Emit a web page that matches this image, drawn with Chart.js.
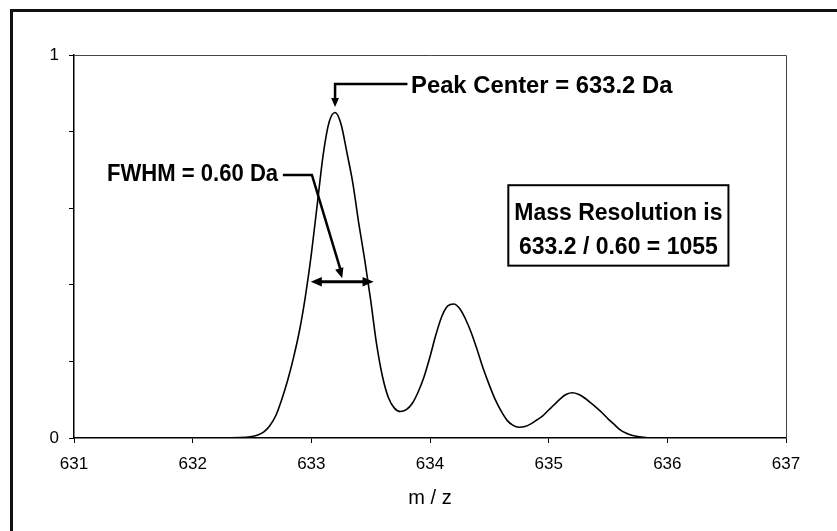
<!DOCTYPE html>
<html>
<head>
<meta charset="utf-8">
<script src="https://cdn.jsdelivr.net/npm/chart.js@4/dist/chart.umd.min.js"></script>
<style>
  html, body { margin: 0; padding: 0; background: #fff; }
  #wrap { width: 837px; height: 531px; position: relative; }
</style>
</head>
<body>
<div id="wrap"><canvas id="spectrum"></canvas></div>
<script>
// m/z positions and relative intensity
var mz = [631, 632, 632.4, 632.5, 632.55, 632.6, 632.65, 632.7, 632.75, 632.8, 632.85, 632.9, 632.95,
  633, 633.05, 633.1, 633.15, 633.2, 633.25, 633.3, 633.35, 633.4, 633.45, 633.5, 633.55, 633.6, 633.65,
  633.7, 633.75, 633.8, 633.85, 633.9, 633.95, 634, 634.05, 634.1, 634.15, 634.2, 634.25, 634.3, 634.35,
  634.4, 634.45, 634.5, 634.55, 634.6, 634.65, 634.7, 634.75, 634.8, 634.85, 634.9, 634.95, 635, 635.05,
  635.1, 635.15, 635.2, 635.25, 635.3, 635.35, 635.4, 635.45, 635.5, 635.55, 635.6, 635.65, 635.7, 635.75,
  635.8, 635.85, 636, 637]
var intensity = [0, 0, 0.001, 0.004, 0.008, 0.016, 0.032, 0.058, 0.1, 0.15, 0.21, 0.28, 0.37,
  0.48, 0.61, 0.74, 0.825, 0.85, 0.82, 0.745, 0.665, 0.56, 0.465, 0.36, 0.245, 0.16, 0.105,
  0.078, 0.069, 0.074, 0.09, 0.12, 0.16, 0.212, 0.27, 0.318, 0.345, 0.35, 0.338, 0.31, 0.273,
  0.228, 0.18, 0.138, 0.1, 0.07, 0.046, 0.033, 0.028, 0.03, 0.037, 0.047, 0.058, 0.073, 0.088,
  0.103, 0.114, 0.118, 0.114, 0.105, 0.093, 0.08, 0.066, 0.05, 0.036, 0.022, 0.013, 0.007, 0.004,
  0.002, 0, 0, 0]
var yLabels = { 0: '0', 1: '1' }

var points = mz.map(function (m, i) { return { x: m, y: intensity[i] } })

var FONT = "'Liberation Sans', Arial, sans-serif"

function arrowHead(ctx, x1, y1, x2, y2, size) {
  var a = Math.atan2(y2 - y1, x2 - x1)
  ctx.beginPath()
  ctx.moveTo(x2, y2)
  ctx.lineTo(x2 - size * Math.cos(a - 0.4), y2 - size * Math.sin(a - 0.4))
  ctx.lineTo(x2 - size * Math.cos(a + 0.4), y2 - size * Math.sin(a + 0.4))
  ctx.closePath()
  ctx.fill()
}

var notes = {
  id: 'notes',
  afterDraw: function (chart) {
    var ctx = chart.ctx, xs = chart.scales.x, ys = chart.scales.y, ca = chart.chartArea
    var X = function (v) { return xs.getPixelForValue(v) }
    var Y = function (v) { return ys.getPixelForValue(v) }
    ctx.save()
    // outer frame
    ctx.strokeStyle = '#111'
    ctx.lineWidth = 3
    ctx.beginPath()
    ctx.moveTo(11.5, 531)
    ctx.lineTo(11.5, 10.5)
    ctx.lineTo(837, 10.5)
    ctx.stroke()
    // plot frame top/right
    ctx.lineWidth = 1
    ctx.strokeStyle = '#444'
    ctx.beginPath()
    ctx.moveTo(ca.left, ca.top + 0.5)
    ctx.lineTo(ca.right + 0.5, ca.top + 0.5)
    ctx.lineTo(ca.right + 0.5, ca.bottom)
    ctx.stroke()

    ctx.strokeStyle = '#000'
    ctx.fillStyle = '#000'
    ctx.lineWidth = 2.5
    // peak centre leader
    ctx.beginPath()
    ctx.moveTo(X(633.81), Y(0.924))
    ctx.lineTo(X(633.2), Y(0.924))
    ctx.lineTo(X(633.2), Y(0.88))
    ctx.stroke()
    arrowHead(ctx, X(633.2), Y(0.9), X(633.2), Y(0.864), 10)
    // FWHM leader
    ctx.beginPath()
    ctx.moveTo(X(632.76), Y(0.687))
    ctx.lineTo(X(633.005), Y(0.687))
    ctx.lineTo(X(633.245), Y(0.44))
    ctx.stroke()
    arrowHead(ctx, X(633.0), Y(0.687), X(633.26), Y(0.417), 11)
    // FWHM width arrow
    ctx.lineWidth = 3
    ctx.beginPath()
    ctx.moveTo(X(633.05), Y(0.408))
    ctx.lineTo(X(633.47), Y(0.408))
    ctx.stroke()
    arrowHead(ctx, X(633.2), Y(0.408), X(632.995), Y(0.408), 12)
    arrowHead(ctx, X(633.3), Y(0.408), X(633.525), Y(0.408), 12)

    ctx.font = 'bold 23px ' + FONT
    ctx.textBaseline = 'middle'
    ctx.textAlign = 'left'
    ctx.save()
    ctx.translate(X(633.84), Y(0.918))
    ctx.scale(1.035, 1)
    ctx.fillText('Peak Center = 633.2 Da', 0, 0)
    ctx.restore()
    ctx.save()
    ctx.translate(X(632.72), Y(0.687))
    ctx.scale(0.96, 1)
    ctx.textAlign = 'right'
    ctx.fillText('FWHM = 0.60 Da', 0, 0)
    ctx.restore()

    // result box
    ctx.lineWidth = 2
    var bx = X(634.66), by = Y(0.66), bw = X(636.515) - bx, bh = Y(0.45) - by
    ctx.strokeRect(bx, by, bw, bh)
    ctx.textAlign = 'center'
    ctx.fillText('Mass Resolution is', bx + bw / 2, Y(0.587))
    ctx.fillText('633.2 / 0.60 = 1055', bx + bw / 2, Y(0.497))
    ctx.restore()
  }
}

var chart = new Chart(document.getElementById('spectrum'), {
  type: 'line',
  data: {
    datasets: [{
      data: points,
      borderColor: '#000',
      borderWidth: 1.6,
      pointRadius: 0,
      fill: false,
      cubicInterpolationMode: 'monotone'
    }]
  },
  options: {
    responsive: true,
    maintainAspectRatio: false,
    animation: false,
    events: [],
    layout: { padding: { top: 55, right: 51, left: 0, bottom: 0 } },
    plugins: { legend: { display: false }, tooltip: { enabled: false } },
    scales: {
      x: {
        type: 'linear', min: 631, max: 637,
        afterFit: function (s) { s.height = 93 },
        grid: { drawOnChartArea: false, tickLength: 5, color: '#000' },
        border: { color: '#000', width: 1.5 },
        ticks: { stepSize: 1, padding: 11, color: '#000', font: { family: FONT, size: 17 }, maxRotation: 0 },
        title: { display: true, text: 'm / z', color: '#000', font: { family: FONT, size: 20 }, padding: { bottom: 21 } }
      },
      y: {
        min: 0, max: 1,
        afterFit: function (s) { s.width = 74 },
        grid: { drawOnChartArea: false, tickLength: 5, color: '#000' },
        border: { color: '#000', width: 1.5 },
        ticks: {
          stepSize: 0.2, padding: 10, color: '#000', font: { family: FONT, size: 17 },
          callback: function (v) { var k = Math.round(v * 10) / 10; return yLabels[k] !== undefined ? yLabels[k] : '' }
        }
      }
    }
  },
  plugins: [notes]
})
</script>
</body>
</html>
